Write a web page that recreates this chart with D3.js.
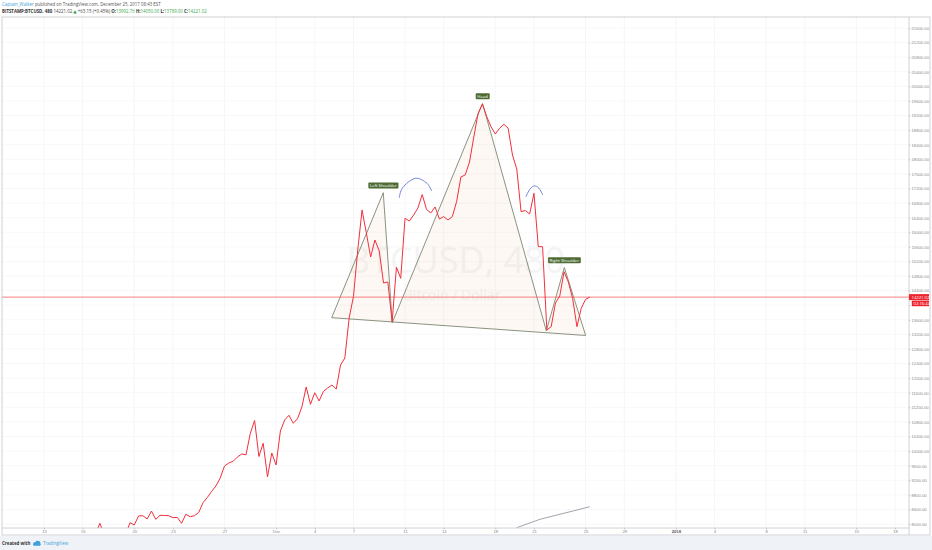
<!DOCTYPE html>
<html>
<head>
<meta charset="utf-8">
<script src="https://cdn.jsdelivr.net/npm/d3@7"></script>
<style>
  body { margin: 0; background: #fff; }
  svg { display: block; font-family: "Open Sans", Roboto, "DejaVu Sans", sans-serif; }
</style>
</head>
<body>
<svg id="chart" width="932" height="550"></svg>
<script>
// ---------------- DATA ----------------
const seriesStart = "2017-11-17T00:00:00Z";   // first 8h bar
const barHours = 8;
const closes = [
  7720,
  8020, 7720, 7750, 7700, 7650, 7700, 7700, 8036, 7973, 8220,
  8228, 8137, 8356, 8129, 8239, 8233, 8228, 8173, 8184, 8019,
  8266, 8200, 8228, 8315, 8584, 8727, 8891, 9042, 9261, 9590,
  9673, 9719, 9837, 9919, 9897, 10487, 10838, 9851, 10213, 9289,
  9947, 9618, 10550, 10852, 10981, 10761, 10893, 11208, 11757, 11282,
  11600, 11373, 11633, 11729, 11811, 11702, 12360, 12552, 13649, 14238,
  15513, 16610, 15979, 15321, 15787, 15486, 14608, 14636, 13547, 15039,
  14737, 16382, 16308, 16473, 16665, 17035, 16624, 16528, 16692, 16363,
  16427, 16336, 16427, 16838, 17515, 17570, 17926, 18612, 19261, 19516,
  19174, 18894, 18694, 18850, 18960, 18850, 18118, 17734, 16563, 16596,
  16500, 17068, 15604, 15604, 13320, 13410, 14060, 14252, 14918, 14636,
  14183, 13410, 13915, 14157.87, 14221.02
];
const lastPrice = 14221.02;
const lastPriceLabel = "14221.02";
const countdownLabel = "02:16:44";

const xTickDates  = ["2017-11-13","2017-11-16","2017-11-20","2017-11-23","2017-11-27","2017-12-01","2017-12-04","2017-12-07","2017-12-11","2017-12-14","2017-12-18","2017-12-21","2017-12-25","2017-12-28","2018-01-01","2018-01-04","2018-01-08","2018-01-11","2018-01-15","2018-01-18"];
const xTickLabels = ["13","16","20","23","27","Dec","4","7","11","14","18","21","25","28","2018","4","8","11","15","18"];
const yTickValues = [8000,8400,8800,9200,9600,10000,10400,10800,11200,11600,12000,12400,12800,13200,13600,14000,14400,14800,15200,15600,16000,16400,16800,17200,17600,18000,18400,18800,19200,19600,20000,20400,20800,21200,21600];
// 14000.00 is hidden behind the last-price boxes in the reference
const yTickLabels = ["8000.00","8400.00","8800.00","9200.00","9600.00","10000.00","10400.00","10800.00","11200.00","11600.00","12000.00","12400.00","12800.00","13200.00","13600.00","","14400.00","14800.00","15200.00","15600.00","16000.00","16400.00","16800.00","17200.00","17600.00","18000.00","18400.00","18800.00","19200.00","19600.00","20000.00","20400.00","20800.00","21200.00","21600.00"];

// head & shoulders drawing (time, price)
const patternTimes  = ["2017-12-05T07:30Z","2017-12-09T07:30Z","2017-12-10T00:15Z","2017-12-17T00:15Z","2017-12-21T23:00Z","2017-12-23T08:30Z","2017-12-25T00:15Z"];
const patternPrices = [13657, 17084, 13520, 19530, 13298, 15033, 13169];
const patternLabelTexts  = ["Left Shoulder", "Head", "Right Shoulder"];
const patternLabelPoints = [1, 3, 5];

// blue arcs
const arc1Times  = ["2017-12-10T13:00Z","2017-12-10T19:00Z","2017-12-11T20:00Z","2017-12-12T17:00Z","2017-12-13T01:40Z"];
const arc1Prices = [16940, 17210, 17480, 17340, 17130];
const arc2Times  = ["2017-12-20T09:00Z","2017-12-20T17:00Z","2017-12-21T00:40Z","2017-12-21T09:00Z","2017-12-21T16:20Z"];
const arc2Prices = [16970, 17190, 17270, 17210, 17020];

// gray line near bottom
const grayTimes  = ["2017-12-19T15:50Z","2017-12-21T11:20Z","2017-12-25T08:00Z"];
const grayPrices = [7899, 8129, 8474];

// ---------------- CHART ----------------
const svg = d3.select("#chart");
const W = 932, H = 550;
const plot = { left: 2, right: 909, top: 17, bottom: 528 };
const frameRight = 930, frameBottom = 535;

const x = d3.scaleUtc()
  .domain([new Date("2017-11-13T00:00:00Z"), new Date("2018-01-18T00:00:00Z")])
  .range([44, 895]);
const y = d3.scaleLinear().domain([8000, 21600]).range([524, 28]);

const t0 = new Date(seriesStart).getTime();
const bars = closes.map((c, i) => ({ t: new Date(t0 + i * barHours * 3600e3), v: c }));

svg.append("rect").attr("width", W).attr("height", H).attr("fill", "#fff");

// footer band
svg.append("rect").attr("x", 0).attr("y", frameBottom + 1).attr("width", W).attr("height", H - frameBottom - 1).attr("fill", "#eff2f6");

// clip
svg.append("defs").append("clipPath").attr("id", "plotclip")
  .append("rect").attr("x", plot.left).attr("y", plot.top)
  .attr("width", plot.right - plot.left).attr("height", plot.bottom - plot.top);

const g = svg.append("g").attr("clip-path", "url(#plotclip)");

// gridlines
g.selectAll("line.vg").data(xTickDates).join("line")
  .attr("x1", d => x(new Date(d + "T00:00:00Z"))).attr("x2", d => x(new Date(d + "T00:00:00Z")))
  .attr("y1", plot.top).attr("y2", plot.bottom)
  .attr("stroke", "#f5f6f8").attr("stroke-width", 1);
g.selectAll("line.hg").data(yTickValues).join("line")
  .attr("x1", plot.left).attr("x2", plot.right)
  .attr("y1", d => y(d)).attr("y2", d => y(d))
  .attr("stroke", "#f7f8fa").attr("stroke-width", 1);

// watermark
g.append("text").attr("x", 456).attr("y", 273).attr("text-anchor", "middle")
  .attr("font-size", 36).attr("fill", "#f4f4f4").text("BTCUSD, 480");
g.append("text").attr("x", 452).attr("y", 300).attr("text-anchor", "middle")
  .attr("font-size", 14).attr("fill", "#f2f2f2").text("Bitcoin / Dollar");

// pattern polygon
const patPts = patternTimes.map((t, i) => [x(new Date(t)), y(patternPrices[i])]);
g.append("path")
  .attr("d", d3.line()(patPts) + "Z")
  .attr("fill", "rgba(240,190,150,0.10)")
  .attr("stroke", "#7d8770").attr("stroke-width", 0.9);

// last price line
g.append("line").attr("x1", plot.left).attr("x2", plot.right)
  .attr("y1", y(lastPrice)).attr("y2", y(lastPrice))
  .attr("stroke", "#f26060").attr("stroke-width", 0.8);

// gray line
g.append("path")
  .attr("d", d3.line().x(d => x(new Date(d))).y((d, i) => y(grayPrices[i]))(grayTimes))
  .attr("fill", "none").attr("stroke", "#8c8c99").attr("stroke-width", 0.8);

// price line
g.append("path").datum(bars)
  .attr("d", d3.line().x(d => x(d.t)).y(d => y(d.v)))
  .attr("fill", "none").attr("stroke", "#f0313c").attr("stroke-width", 1);

// arcs
const arcLine = d3.line().curve(d3.curveCatmullRom.alpha(0.5));
[[arc1Times, arc1Prices], [arc2Times, arc2Prices]].forEach(([ts, ps]) => {
  g.append("path")
    .attr("d", arcLine(ts.map((t, i) => [x(new Date(t)), y(ps[i])])))
    .attr("fill", "none").attr("stroke", "#6f86d8").attr("stroke-width", 1);
});

// pattern labels
patternLabelTexts.forEach((txt, k) => {
  const p = patPts[patternLabelPoints[k]];
  const lg = svg.append("g");
  const tx = lg.append("text").attr("x", p[0]).attr("y", p[1] - 5.4)
    .attr("text-anchor", "middle").attr("font-size", 4.3).attr("fill", "#fff").text(txt);
  const bb = tx.node().getBBox();
  lg.insert("rect", "text").attr("x", bb.x - 1.5).attr("y", p[1] - 10.2)
    .attr("width", bb.width + 3).attr("height", 6).attr("rx", 1)
    .attr("fill", "#4d6b33");
});

// frame
svg.append("rect").attr("x", plot.left).attr("y", plot.top)
  .attr("width", frameRight - plot.left).attr("height", frameBottom - plot.top)
  .attr("fill", "none").attr("stroke", "#c3c6cc").attr("stroke-width", 0.8);
svg.append("line").attr("x1", plot.left).attr("x2", plot.right).attr("y1", plot.bottom).attr("y2", plot.bottom)
  .attr("stroke", "#c3c6cc").attr("stroke-width", 0.8);
svg.append("line").attr("x1", plot.right).attr("x2", plot.right).attr("y1", plot.top).attr("y2", frameBottom)
  .attr("stroke", "#c3c6cc").attr("stroke-width", 0.8);

// y axis
const yAxisG = svg.append("g").attr("transform", `translate(${plot.right},0)`)
  .call(d3.axisRight(y).tickValues(yTickValues).tickFormat((d, i) => yTickLabels[i]).tickSize(1.5).tickPadding(1));
yAxisG.select(".domain").remove();
yAxisG.selectAll("line").attr("stroke", "#aaa").attr("stroke-width", 0.6);
yAxisG.selectAll("text").attr("font-size", 4.2).attr("fill", "#8a8a8a");

// x axis
const xDates = xTickDates.map(d => new Date(d + "T00:00:00Z"));
const xAxisG = svg.append("g").attr("transform", `translate(0,${plot.bottom})`)
  .call(d3.axisBottom(x).tickValues(xDates).tickFormat((d, i) => xTickLabels[i]).tickSize(1.5).tickPadding(1));
xAxisG.select(".domain").remove();
xAxisG.selectAll("line").attr("stroke", "#aaa").attr("stroke-width", 0.6);
xAxisG.selectAll("text").attr("font-size", 4.2)
  .attr("font-weight", (d, i) => xTickLabels[i] === "2018" ? "bold" : null)
  .attr("fill", (d, i) => xTickLabels[i] === "2018" ? "#555" : "#8a8a8a");

// price label boxes
const py = y(lastPrice);
svg.append("rect").attr("x", plot.right).attr("y", py - 3).attr("width", frameRight - plot.right - 1).attr("height", 6).attr("fill", "#f0242f");
svg.append("text").attr("x", plot.right + 2.5).attr("y", py + 1.5).attr("font-size", 4.2).attr("fill", "#fff").text(lastPriceLabel);
svg.append("rect").attr("x", plot.right + 2.8).attr("y", py + 3.5).attr("width", frameRight - plot.right - 3.8).attr("height", 5.6).attr("fill", "#f0242f");
svg.append("text").attr("x", plot.right + 4.5).attr("y", py + 7.8).attr("font-size", 4.2).attr("fill", "#fff").text(countdownLabel);

// header
const h1 = svg.append("text").attr("x", 2).attr("y", 6.3).attr("font-size", 4.4).attr("fill", "#555");
h1.append("tspan").attr("fill", "#41a0d8").text("Captain_Walker");
h1.append("tspan").text(" published on TradingView.com, December 25, 2017 08:43 EST");

const h2 = svg.append("text").attr("x", 2).attr("y", 12.6).attr("font-size", 4.4).attr("fill", "#333");
h2.append("tspan").attr("font-weight", "bold").text("BITSTAMP:BTCUSD, 480");
h2.append("tspan").attr("fill", "#444").text("  14221.02 ");
h2.append("tspan").attr("fill", "#2e9e3e").text("\u25B2");
h2.append("tspan").attr("fill", "#444").text(" +63.15 (+0.45%) ");
const ohlc = [["O:", "13992.76"], ["H:", "14050.00"], ["L:", "13789.00"], ["C:", "14221.02"]];
ohlc.forEach(([k, v]) => {
  h2.append("tspan").attr("font-weight", "bold").attr("fill", "#333").text(k);
  h2.append("tspan").attr("fill", "#3aa84a").text(v + " ");
});

// footer
svg.append("text").attr("x", 2).attr("y", 545).attr("font-size", 4.4).attr("font-weight", "bold").attr("fill", "#333").text("Created with");
const logo = svg.append("g").attr("transform", "translate(33,540.5)");
logo.append("path").attr("d", "M0,4 Q0,1.5 2.5,1.5 Q3.5,-0.5 5.5,0.6 Q7.5,0.6 7.5,3 Q8.5,4.5 7,5.2 L1,5.2 Q0,5 0,4Z").attr("fill", "#3ea1dc");
svg.append("text").attr("x", 43).attr("y", 545).attr("font-size", 4.4).attr("fill", "#3ea1dc").text("TradingView");
</script>
</body>
</html>
